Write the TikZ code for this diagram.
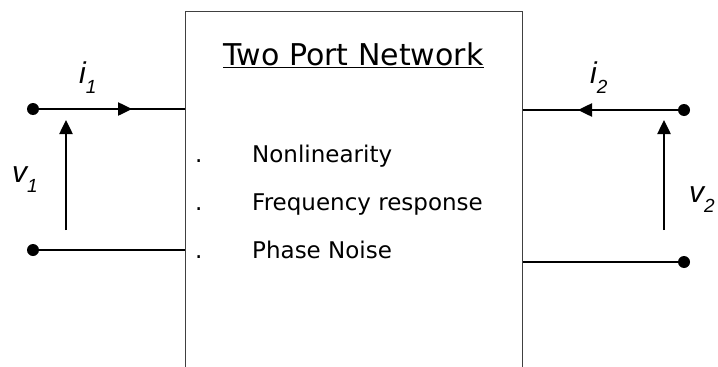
\documentclass[tikz,border=0pt]{standalone}
\usepackage{fontspec}
\usepackage{tikz}
\usetikzlibrary{arrows.meta, positioning}
\setmainfont{DejaVu Sans}
\newfontfamily\labfont{Liberation Sans}
\newcommand{\portlab}[2]{{\labfont\itshape\fontsize{30}{32}\selectfont #1\raisebox{-10pt}{\fontsize{19}{21}\selectfont #2}}}

\begin{document}
\begin{tikzpicture}[x=1pt,y=-1pt,
          netbox/.style={draw=black!75,line width=1pt,
                         minimum width=337pt,minimum height=360pt},
          term/.style={circle,fill=black,inner sep=0pt,minimum size=12pt},
          wire/.style={line width=2.5pt},
          cur/.style={-{Triangle[length=14pt,width=13pt]}},
          lab/.style={anchor=base west,inner sep=0pt},
          item/.style={anchor=base west,inner sep=0pt,
                       font=\fontsize{23}{26}\selectfont}]
        \useasboundingbox (0,0) rectangle (718,367);
        \node[netbox](net) at (353.5,191){};
        \node[anchor=base,inner sep=0pt,font=\fontsize{30}{34}\selectfont]
          (title) at (353.5,65){\underline{Two Port Network}};
        \foreach \txt [count=\k] in {Nonlinearity,Frequency response,Phase Noise}{
          \node[item](dot\k) at (195,114+48*\k){.};
          \node[item](item\k) at (252,114+48*\k){\txt};
        }
        \node[term](t1) at (33,109){};
        \node[term](b1) at (33,250){};
        \node[term](t2) at (684,110){};
        \node[term](b2) at (684,262){};
        \coordinate (m1) at (132,109);
        \coordinate (m2) at (578,110);
        \coordinate (v1a) at (66,230);
        \coordinate (v1b) at (66,120);
        \coordinate (v2a) at (664,230);
        \coordinate (v2b) at (664,120);
        \draw[wire](t1)--(t1-|net.west);
        \draw[wire](b1)--(b1-|net.west);
        \draw[wire](t2)--(t2-|net.east);
        \draw[wire](b2)--(b2-|net.east);
        \draw[wire,cur](t1)--(m1);
        \draw[wire,cur](t2)--(m2);
        \draw[wire,cur](v1a)--(v1b);
        \draw[wire,cur](v2a)--(v2b);
        \node[lab](i1) at (79,83){\portlab{i}{1}};
        \node[lab](i2) at (590,83){\portlab{i}{2}};
        \node[lab](v1) at (12,182){\portlab{v}{1}};
        \node[lab](v2) at (689,202){\portlab{v}{2}};
      \end{tikzpicture}
\end{document}
